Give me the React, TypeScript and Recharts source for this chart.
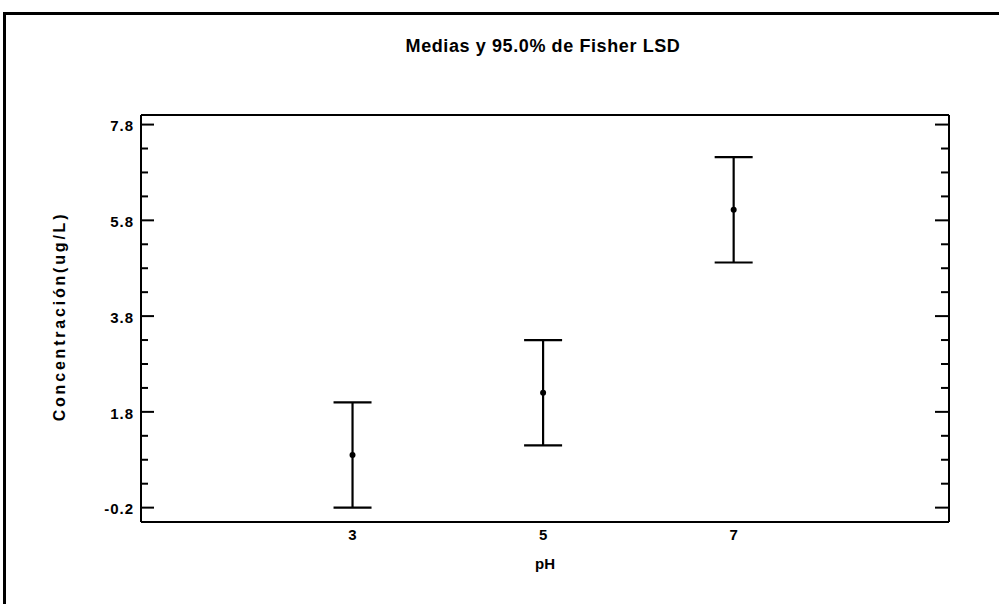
import React from 'react';
import { ScatterChart, Scatter, XAxis, YAxis, ErrorBar } from 'recharts';

const phLevels = [3, 5, 7];
const means = [0.9, 2.2, 6.02];
const lsdHalf = [1.1, 1.1, 1.1];
const yMajorTicks = [-0.2, 1.8, 3.8, 5.8, 7.8];
const yAllTicks = [-0.2, 0.3, 0.8, 1.3, 1.8, 2.3, 2.8, 3.3, 3.8, 4.3, 4.8, 5.3, 5.8, 6.3, 6.8, 7.3, 7.8];
const xTicks = [3, 5, 7];
const yDomain: [number, number] = [-0.5, 8.0];
const xDomain: [number, number] = [0.78, 9.26];
const title = 'Medias y 95.0% de Fisher LSD';
const yLabel = 'Concentración(ug/L)';
const xLabel = 'pH';

const data = phLevels.map((ph, i) => ({ ph, mean: means[i], err: lsdHalf[i] }));

const FONT = '"Liberation Sans", Arial, sans-serif';

const LeftTick = (props: any) => {
  const { x, y, payload } = props;
  const major = yMajorTicks.includes(payload.value);
  return (
    <g>
      <line x1={x} x2={x + (major ? 13 : 7)} y1={y} y2={y} stroke="#000" strokeWidth={2} />
      {major && (
        <text
          x={x - 7}
          y={y}
          dy="0.45em"
          textAnchor="end"
          fontFamily={FONT}
          fontWeight="bold"
          fontSize={15}
          letterSpacing={1}
          fill="#000"
        >
          {payload.value.toFixed(1)}
        </text>
      )}
    </g>
  );
};

const RightTick = (props: any) => {
  const { x, y, payload } = props;
  const major = yMajorTicks.includes(payload.value);
  return (
    <line x1={x} x2={x - (major ? 14 : 8)} y1={y} y2={y} stroke="#000" strokeWidth={2} />
  );
};

const YLabelContent = (props: any) => {
  const { viewBox } = props;
  const cx = viewBox.x + 65;
  const cy = viewBox.y + viewBox.height / 2 - 2;
  return (
    <text
      x={cx}
      y={cy}
      transform={`rotate(-90, ${cx}, ${cy})`}
      textAnchor="middle"
      fontFamily={FONT}
      fontWeight="bold"
      fontSize={16}
      letterSpacing={2.8}
      fill="#000"
    >
      {yLabel}
    </text>
  );
};

const MeanDot = (p: any) => <circle cx={p.cx} cy={p.cy} r={3} fill="#000" />;

export default function App() {
  return (
    <div style={{ position: 'absolute', left: 0, top: 0, width: 999, height: 604, overflow: 'hidden', background: '#fff' }}>
      <ScatterChart width={999} height={604} margin={{ top: 114, right: 49, bottom: 32, left: 0 }}>
        <XAxis
          dataKey="ph"
          type="number"
          domain={xDomain}
          ticks={xTicks}
          allowDataOverflow
          tickLine={false}
          axisLine={{ stroke: '#000', strokeWidth: 2 }}
          height={50}
          tickMargin={1}
          tick={{ fill: '#000', fontSize: 15, fontWeight: 'bold', fontFamily: FONT }}
          label={{ value: xLabel, position: 'insideBottom', offset: 3, fill: '#000', fontSize: 15, fontWeight: 'bold', fontFamily: FONT }}
        />
        <XAxis
          xAxisId="top"
          orientation="top"
          type="number"
          domain={xDomain}
          allowDataOverflow
          tick={false}
          tickLine={false}
          height={1}
          axisLine={{ stroke: '#000', strokeWidth: 2 }}
        />
        <YAxis
          yAxisId="left"
          type="number"
          domain={yDomain}
          ticks={yAllTicks}
          interval={0}
          allowDataOverflow
          width={141}
          tickSize={0}
          tickMargin={0}
          tickLine={false}
          axisLine={{ stroke: '#000', strokeWidth: 2 }}
          tick={<LeftTick />}
          label={{ content: <YLabelContent /> }}
        />
        <YAxis
          yAxisId="right"
          orientation="right"
          type="number"
          domain={yDomain}
          ticks={yAllTicks}
          interval={0}
          allowDataOverflow
          width={1}
          tickSize={0}
          tickMargin={0}
          tickLine={false}
          axisLine={{ stroke: '#000', strokeWidth: 2 }}
          tick={<RightTick />}
        />
        <Scatter yAxisId="left" data={data} dataKey="mean" shape={<MeanDot />} isAnimationActive={false}>
          <ErrorBar dataKey="err" direction="y" width={19} stroke="#000" strokeWidth={2.2} isAnimationActive={false} />
        </Scatter>
      </ScatterChart>
      <svg width={999} height={604} style={{ position: 'absolute', left: 0, top: 0, pointerEvents: 'none' }}>
        <rect x={4.5} y={13.5} width={1100} height={700} fill="none" stroke="#000" strokeWidth={3} />
        <text x={543} y={52} textAnchor="middle" fontFamily={FONT} fontWeight="bold" fontSize={18} letterSpacing={0.6} fill="#000">
          {title}
        </text>
      </svg>
    </div>
  );
}
